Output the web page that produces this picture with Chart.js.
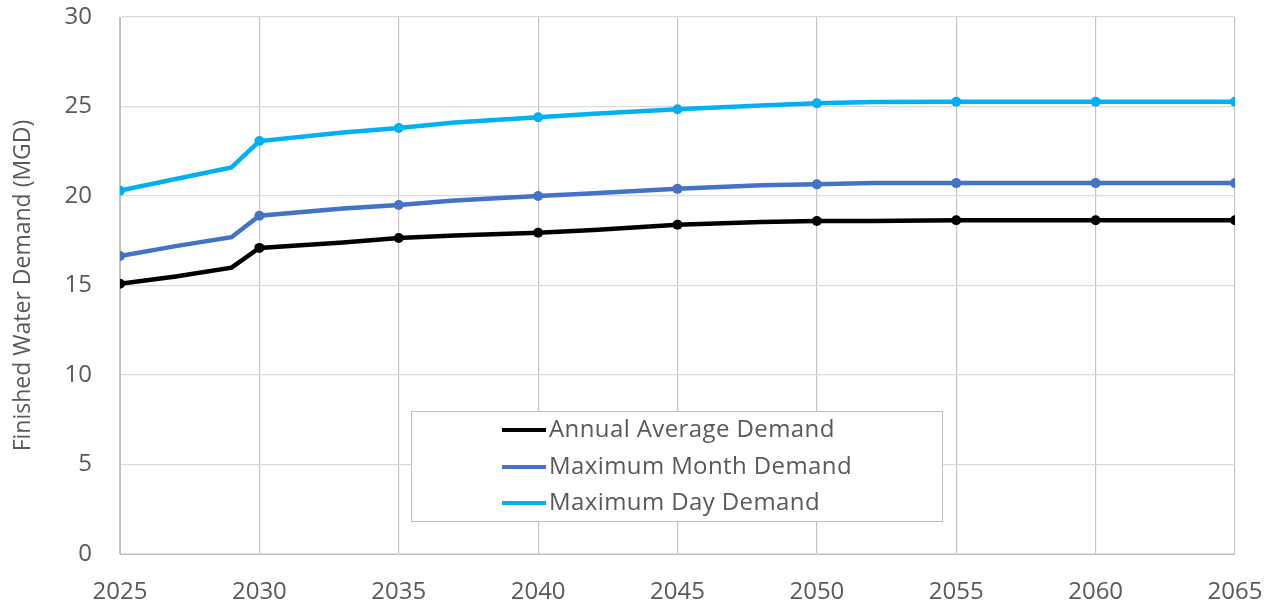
<!DOCTYPE html>
<html lang="en">
<head>
    <meta charset="UTF-8">
    <title>Finished Water Demand</title>
    <script src="https://cdn.jsdelivr.net/npm/chart.js"></script>
    <style>
        body {
            margin: 0;
            background: white;
        }
        #wrap {
            width: 1277px;
            height: 604px;
        }
    </style>
</head>
<body>
    <div id="wrap"><canvas id="demandChart" width="1277" height="604"></canvas></div>

    <script>
        // Demand projections (MGD); only years where the curve bends are listed
        const years = [2025, 2027, 2029, 2030, 2033, 2035, 2037, 2040, 2042, 2045, 2048, 2050, 2052, 2055, 2060, 2065];
        const annualAverage = [15.1, 15.5, 16.0, 17.1, 17.4, 17.65, 17.8, 17.95, 18.1, 18.4, 18.55, 18.6, 18.6, 18.65, 18.65, 18.65];
        const maxMonth = [16.65, 17.2, 17.7, 18.9, 19.3, 19.5, 19.75, 20.0, 20.15, 20.4, 20.6, 20.65, 20.72, 20.72, 20.72, 20.72];
        const maxDay = [20.3, 20.95, 21.6, 23.07, 23.55, 23.8, 24.1, 24.4, 24.6, 24.85, 25.05, 25.18, 25.25, 25.27, 25.27, 25.27];

        const seriesLabels = ['Annual Average Demand', 'Maximum Month Demand', 'Maximum Day Demand'];
        const seriesColors = ['#000000', '#4472C4', '#00B0F0'];

        const yTicks = [0, 5, 10, 15, 20, 25, 30];
        const xTicks = [2025, 2030, 2035, 2040, 2045, 2050, 2055, 2060, 2065];

        const textColor = '#595959';
        const fontFamily = '"Open Sans", Lato, sans-serif';

        function toPoints(values) {
            return years.map((yr, i) => ({ x: yr, y: values[i] }));
        }

        // markers only on the five-year ticks
        function markerRadius(ctx) {
            const raw = ctx.raw;
            return raw && xTicks.includes(raw.x) ? 5 : 0;
        }

        const datasets = [annualAverage, maxMonth, maxDay].map((vals, i) => ({
            label: seriesLabels[i],
            data: toPoints(vals),
            borderColor: seriesColors[i],
            backgroundColor: seriesColors[i],
            borderWidth: 4.5,
            pointRadius: markerRadius,
            pointHoverRadius: markerRadius,
            pointBorderWidth: 0,
            tension: 0
        }));

        // boxed legend floating inside the plot
        const floatingLegend = {
            id: 'floatingLegend',
            afterDraw(chart) {
                const ctx = chart.ctx;
                const box = { x: 411, y: 411, w: 531, h: 110 };
                ctx.save();
                ctx.fillStyle = '#ffffff';
                ctx.fillRect(box.x, box.y, box.w, box.h);
                ctx.strokeStyle = '#bfbfbf';
                ctx.lineWidth = 1;
                ctx.strokeRect(box.x + 0.5, box.y + 0.5, box.w, box.h);

                ctx.font = '24px ' + fontFamily;
                ctx.letterSpacing = '0.4px';
                ctx.textBaseline = 'middle';
                ctx.textAlign = 'left';
                const rowY = [430, 467, 503];
                chart.data.datasets.forEach((ds, i) => {
                    ctx.strokeStyle = ds.borderColor;
                    ctx.lineWidth = 4;
                    ctx.beginPath();
                    ctx.moveTo(502, rowY[i]);
                    ctx.lineTo(546, rowY[i]);
                    ctx.stroke();
                    ctx.fillStyle = textColor;
                    ctx.fillText(ds.label, 549, rowY[i]);
                });
                ctx.restore();
            }
        };

        new Chart(document.getElementById('demandChart'), {
            type: 'line',
            data: { datasets },
            options: {
                responsive: false,
                animation: false,
                layout: { padding: { top: 17, right: 42, left: 0, bottom: 0 } },
                plugins: {
                    legend: { display: false },
                    tooltip: { enabled: false }
                },
                scales: {
                    x: {
                        type: 'linear',
                        min: 2025,
                        max: 2065,
                        afterBuildTicks(scale) {
                            scale.ticks = xTicks.map(v => ({ value: v }));
                        },
                        afterFit(scale) {
                            scale.height = 50;
                            scale.paddingLeft = 0;
                            scale.paddingRight = 0;
                        },
                        ticks: {
                            color: textColor,
                            font: { family: fontFamily, size: 24 },
                            padding: 24,
                            maxRotation: 0,
                            callback: v => String(v)
                        },
                        grid: { color: '#c4c4c4', lineWidth: 1.2, drawTicks: false },
                        border: { color: '#c4c4c4' }
                    },
                    y: {
                        min: 0,
                        max: 30,
                        afterBuildTicks(scale) {
                            scale.ticks = yTicks.map(v => ({ value: v }));
                        },
                        afterFit(scale) {
                            scale.width = 120;
                            scale.paddingTop = 0;
                            scale.paddingBottom = 0;
                        },
                        ticks: {
                            color: textColor,
                            font: { family: fontFamily, size: 24 },
                            padding: 28
                        },
                        title: {
                            display: true,
                            text: 'Finished Water Demand (MGD)',
                            color: textColor,
                            font: { family: fontFamily, size: 23 },
                            padding: { top: 10, bottom: 0 }
                        },
                        grid: { color: '#dadada', lineWidth: 1.2, drawTicks: false },
                        border: { color: '#bfbfbf' }
                    }
                }
            },
            plugins: [floatingLegend]
        });
    </script>
</body>
</html>
